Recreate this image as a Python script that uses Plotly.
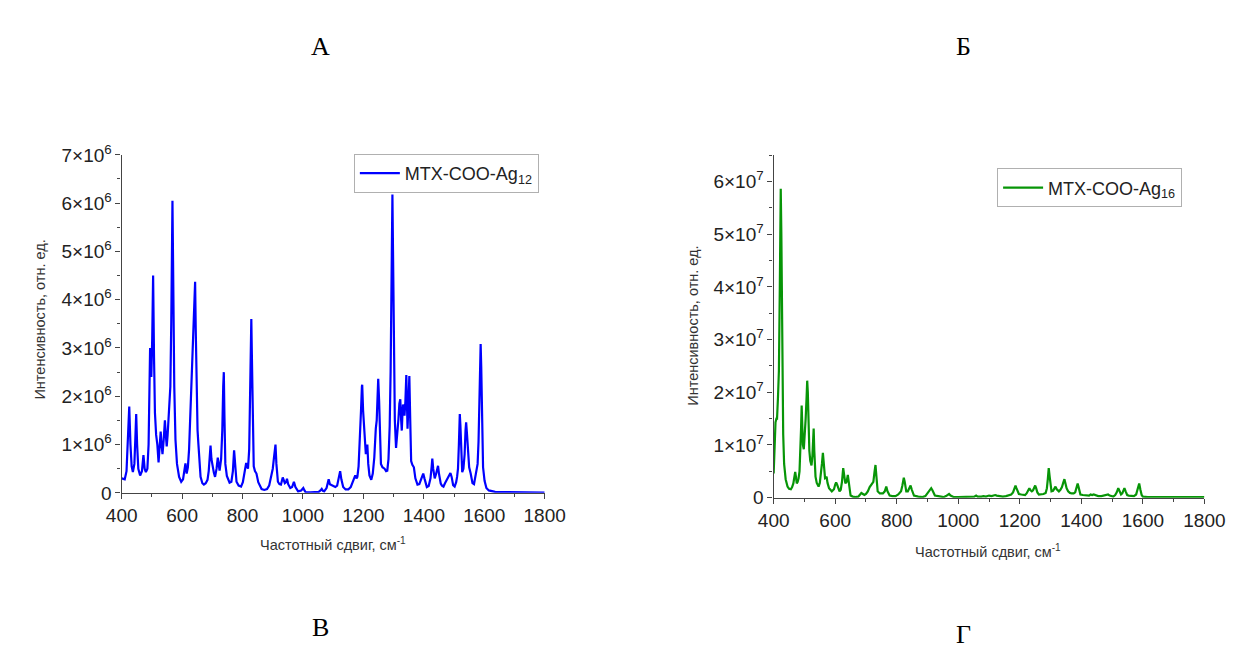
import plotly.graph_objects as go

# ---------------- data ----------------
# MTX-COO-Ag12: Raman shift (cm-1) and intensity (x 1e6)
ag12_shift = [400, 410, 416, 421, 425, 429, 433, 437, 442, 445, 448, 451, 455, 461, 467, 472, 476, 480, 485, 489,
              492, 494, 496, 498, 501, 504, 507, 510, 514, 518, 522, 526, 529, 532, 535, 539, 543, 546, 549, 552,
              554, 558, 561, 564, 566, 568, 570, 572, 574, 578, 583, 590, 597, 603, 607, 611, 615, 619, 623, 627,
              631, 634, 638, 641, 643, 645, 648, 651, 654, 657, 661, 667, 672, 678, 684, 688, 691, 694, 697, 701,
              705, 709, 714, 718, 721, 724, 729, 733, 736, 738, 740, 743, 748, 757, 763, 768, 772, 776, 780, 787,
              795, 801, 806, 809, 812, 815, 818, 822, 825, 827, 829, 831, 834, 837, 841, 846, 852, 858, 863, 872,
              881, 888, 895, 900, 904, 907, 909, 912, 917, 922, 927, 933, 937, 940, 944, 947, 951, 958, 964, 970,
              975, 984, 994, 1001, 1005, 1009, 1025, 1041, 1052, 1058, 1062, 1066, 1070, 1078, 1082, 1085, 1089, 1093, 1100, 1107,
              1113, 1118, 1123, 1127, 1133, 1141, 1150, 1158, 1165, 1170, 1173, 1177, 1180, 1184, 1188, 1192, 1195, 1196, 1199, 1202,
              1204, 1206, 1208, 1211, 1213, 1216, 1220, 1226, 1231, 1236, 1239, 1241, 1244, 1247, 1249, 1252, 1255, 1258, 1263, 1270,
              1275, 1279, 1283, 1287, 1290, 1293, 1296, 1298, 1301, 1304, 1308, 1312, 1316, 1319, 1322, 1325, 1327, 1329, 1331, 1334,
              1336, 1339, 1342, 1344, 1346, 1349, 1352, 1355, 1358, 1362, 1367, 1372, 1379, 1385, 1391, 1395, 1398, 1402, 1406, 1410,
              1416, 1422, 1426, 1428, 1431, 1434, 1436, 1440, 1444, 1447, 1450, 1453, 1456, 1460, 1465, 1470, 1476, 1482, 1488, 1492,
              1497, 1502, 1507, 1510, 1513, 1516, 1519, 1521, 1524, 1527, 1531, 1535, 1538, 1540, 1543, 1546, 1550, 1555, 1561, 1566,
              1573, 1578, 1581, 1584, 1586, 1588, 1590, 1592, 1596, 1601, 1607, 1615, 1625, 1636, 1660, 1700, 1750, 1800]
ag12_int_e6 = [0.30, 0.28, 0.45, 1.2, 1.79, 1.0, 0.55, 0.43, 0.6, 1.1, 1.63, 1.0, 0.5, 0.36, 0.45, 0.78, 0.5, 0.43, 0.5, 1.0,
               2.6, 3.0, 2.8, 2.4, 3.2, 4.5, 2.8, 1.66, 1.2, 1.0, 0.63, 0.9, 1.27, 1.0, 0.8, 1.1, 1.5, 1.2, 0.96, 1.2,
               1.4, 1.7, 2.2, 3.5, 5.0, 6.05, 4.8, 3.3, 2.2, 1.1, 0.6, 0.33, 0.23, 0.28, 0.45, 0.61, 0.4, 0.53, 0.9, 1.66,
               2.3, 3.12, 3.6, 4.2, 4.37, 3.4, 1.72, 1.3, 1.0, 0.6, 0.33, 0.2, 0.17, 0.2, 0.27, 0.45, 0.75, 0.98, 0.7, 0.5,
               0.42, 0.33, 0.5, 0.73, 0.55, 0.46, 0.7, 1.3, 2.2, 2.5, 1.6, 0.6, 0.35, 0.21, 0.23, 0.45, 0.88, 0.45, 0.23, 0.15,
               0.13, 0.22, 0.4, 0.55, 0.62, 0.55, 0.5, 0.9, 2.0, 3.2, 3.6, 2.8, 1.3, 0.55, 0.45, 0.4, 0.22, 0.12, 0.08, 0.06,
               0.08, 0.15, 0.33, 0.5, 0.73, 0.95, 1.0, 0.6, 0.23, 0.18, 0.17, 0.32, 0.22, 0.2, 0.22, 0.29, 0.18, 0.10, 0.12, 0.23,
               0.12, 0.03, 0.05, 0.10, 0.05, 0.01, 0.01, 0.01, 0.02, 0.05, 0.08, 0.04, 0.03, 0.1, 0.2, 0.28, 0.18, 0.17, 0.14, 0.12,
               0.15, 0.3, 0.45, 0.28, 0.12, 0.07, 0.07, 0.12, 0.23, 0.35, 0.36, 0.3, 0.33, 0.55, 1.0, 1.7, 2.2, 2.24, 1.7, 1.4,
               1.26, 1.0, 0.8, 0.95, 1.0, 0.6, 0.36, 0.27, 0.4, 0.73, 1.2, 1.33, 1.5, 2.2, 2.36, 1.9, 1.0, 0.6, 0.53, 0.5,
               0.45, 0.46, 0.7, 1.39, 2.5, 4.6, 6.18, 5.0, 2.72, 1.5, 0.93, 1.2, 1.53, 1.85, 1.94, 1.5, 1.29, 1.6, 1.83, 1.7,
               1.6, 1.9, 2.44, 1.9, 1.33, 1.8, 2.42, 1.5, 0.66, 0.58, 0.53, 0.3, 0.17, 0.18, 0.3, 0.38, 0.4, 0.3, 0.18, 0.12,
               0.14, 0.3, 0.55, 0.71, 0.5, 0.33, 0.3, 0.38, 0.5, 0.56, 0.4, 0.25, 0.19, 0.15, 0.13, 0.2, 0.27, 0.35, 0.41, 0.33,
               0.16, 0.13, 0.22, 0.33, 0.5, 1.0, 1.63, 1.4, 0.9, 0.43, 0.5, 0.8, 1.3, 1.46, 1.2, 0.8, 0.53, 0.4, 0.2, 0.18,
               0.4, 0.6, 1.06, 1.9, 2.7, 3.08, 2.6, 1.7, 0.53, 0.25, 0.1, 0.05, 0.03, 0.02, 0.015, 0.01, 0.01, 0.005]

# MTX-COO-Ag16: Raman shift (cm-1) and intensity (x 1e7)
ag16_shift = [400, 403, 406, 409, 411, 414, 417, 420, 423, 425, 428, 431, 434, 439, 445, 450, 456, 460, 464, 467,
              470, 473, 475, 478, 481, 484, 487, 489, 491, 493, 495, 498, 501, 504, 507, 509, 511, 513, 516, 519,
              523, 526, 528, 530, 532, 534, 536, 540, 546, 550, 553, 557, 560, 563, 567, 570, 572, 575, 580, 589,
              596, 600, 603, 606, 610, 614, 618, 622, 626, 629, 633, 637, 641, 644, 647, 650, 657, 665, 675, 680,
              685, 690, 695, 700, 706, 712, 718, 722, 724, 728, 731, 734, 738, 745, 755, 761, 766, 770, 777, 786,
              796, 805, 811, 814, 818, 823, 826, 829, 831, 836, 840, 845, 849, 856, 870, 884, 893, 901, 907, 912,
              916, 920, 924, 935, 945, 952, 960, 965, 970, 975, 986, 1000, 1015, 1030, 1045, 1052, 1058, 1063, 1075, 1082,
              1090, 1100, 1108, 1115, 1120, 1125, 1135, 1145, 1155, 1165, 1172, 1178, 1182, 1186, 1189, 1193, 1197, 1205, 1212, 1217,
              1222, 1227, 1231, 1235, 1239, 1243, 1247, 1250, 1253, 1257, 1262, 1270, 1277, 1284, 1288, 1291, 1294, 1297, 1300, 1303,
              1308, 1312, 1316, 1320, 1324, 1327, 1332, 1337, 1341, 1345, 1348, 1352, 1357, 1363, 1369, 1375, 1380, 1384, 1388, 1391,
              1394, 1397, 1405, 1415, 1425, 1430, 1435, 1440, 1445, 1455, 1465, 1475, 1482, 1487, 1492, 1500, 1504, 1510, 1515, 1520,
              1524, 1529, 1533, 1537, 1540, 1544, 1549, 1554, 1562, 1571, 1578, 1583, 1588, 1592, 1596, 1600, 1616, 1650, 1800]
ag16_int_e7 = [0.46, 0.9, 1.43, 1.5, 1.5, 1.9, 2.4, 4.0, 5.86, 5.0, 2.4, 1.2, 0.64, 0.35, 0.21, 0.17, 0.16, 0.2, 0.27, 0.4,
               0.49, 0.37, 0.27, 0.3, 0.37, 0.5, 0.89, 1.3, 1.75, 1.4, 1.0, 0.92, 1.15, 1.5, 1.9, 2.22, 2.0, 1.4, 0.89, 0.7,
               0.61, 0.8, 1.1, 1.31, 0.9, 0.6, 0.4, 0.28, 0.21, 0.28, 0.4, 0.65, 0.85, 0.6, 0.37, 0.38, 0.4, 0.28, 0.18, 0.12,
               0.16, 0.25, 0.29, 0.25, 0.17, 0.12, 0.15, 0.3, 0.56, 0.45, 0.27, 0.3, 0.43, 0.3, 0.12, 0.04, 0.02, 0.01, 0.02, 0.05,
               0.09, 0.07, 0.05, 0.07, 0.12, 0.2, 0.24, 0.27, 0.3, 0.5, 0.62, 0.4, 0.12, 0.08, 0.08, 0.12, 0.21, 0.12, 0.04, 0.03,
               0.03, 0.06, 0.09, 0.12, 0.22, 0.38, 0.3, 0.15, 0.12, 0.12, 0.17, 0.23, 0.15, 0.04, 0.02, 0.01, 0.03, 0.09, 0.13, 0.18,
               0.14, 0.07, 0.04, 0.03, 0.02, 0.01, 0.03, 0.05, 0.07, 0.04, 0.01, 0.01, 0.01, 0.01, 0.02, 0.02, 0.04, 0.02, 0.02, 0.03,
               0.02, 0.04, 0.03, 0.04, 0.05, 0.04, 0.03, 0.02, 0.03, 0.04, 0.06, 0.1, 0.17, 0.23, 0.18, 0.1, 0.07, 0.06, 0.05, 0.05,
               0.08, 0.13, 0.18, 0.14, 0.12, 0.14, 0.19, 0.23, 0.18, 0.1, 0.06, 0.06, 0.07, 0.09, 0.18, 0.35, 0.56, 0.4, 0.18, 0.12,
               0.13, 0.17, 0.21, 0.16, 0.13, 0.12, 0.15, 0.2, 0.28, 0.35, 0.28, 0.18, 0.12, 0.09, 0.08, 0.08, 0.1, 0.17, 0.27, 0.2,
               0.1, 0.06, 0.05, 0.04, 0.04, 0.06, 0.05, 0.06, 0.05, 0.03, 0.03, 0.04, 0.05, 0.06, 0.04, 0.02, 0.02, 0.05, 0.1, 0.18,
               0.12, 0.06, 0.08, 0.14, 0.18, 0.12, 0.05, 0.04, 0.03, 0.03, 0.06, 0.15, 0.27, 0.15, 0.05, 0.02, 0.01, 0.01, 0.01]

x_ticks = [400, 600, 800, 1000, 1200, 1400, 1600, 1800]
ag12_yticks = [0, 1e6, 2e6, 3e6, 4e6, 5e6, 6e6, 7e6]
ag12_yticktext = ["0"] + [f"{k}×10<sup>6</sup>" for k in range(1, 8)]
ag16_yticks = [0, 1e7, 2e7, 3e7, 4e7, 5e7, 6e7]
ag16_yticktext = ["0"] + [f"{k}×10<sup>7</sup>" for k in range(1, 7)]

panel_letters = ["А", "Б", "В", "Г"]
x_title = "Частотный сдвиг, см<sup>-1</sup>"
y_title = "Интенсивность, отн. ед."
name12 = "MTX-COO-Ag<sub>12</sub>"
name16 = "MTX-COO-Ag<sub>16</sub>"

# ---------------- figure ----------------
W, H = 1241, 648
FONT = "Liberation Sans, Arial, sans-serif"
AX = "#444444"

fig = go.Figure()
fig.add_trace(go.Scatter(x=ag12_shift, y=[v * 1e6 for v in ag12_int_e6], mode="lines", name=name12,
                         line=dict(color="#0000ff", width=2.2), xaxis="x", yaxis="y", legend="legend"))
fig.add_trace(go.Scatter(x=ag16_shift, y=[v * 1e7 for v in ag16_int_e7], mode="lines", name=name16,
                         line=dict(color="#079507", width=2.2), xaxis="x2", yaxis="y2", legend="legend2"))


def px_x(p):
    return p / W


def px_y(p):
    return 1 - p / H


common_axis = dict(showgrid=False, zeroline=False, showline=True, linecolor=AX, linewidth=1.4,
                   ticks="outside", ticklen=5, tickwidth=1, tickcolor=AX,
                   tickfont=dict(family=FONT, size=19, color="#222222"))

fig.update_layout(
    width=W, height=H, margin=dict(l=0, r=0, t=0, b=0),
    paper_bgcolor="white", plot_bgcolor="white",
    xaxis=dict(domain=[px_x(100.7), px_x(536.7)], range=[400, 1800], anchor="y",
               tickvals=x_ticks, minor=dict(dtick=100, ticks="outside", ticklen=3, tickcolor=AX),
               **common_axis),
    yaxis=dict(domain=[px_y(490), px_y(139)], range=[0, 7e6], anchor="x",
               tickvals=ag12_yticks, ticktext=ag12_yticktext,
               minor=dict(dtick=5e5, tick0=0, ticks="outside", ticklen=3, tickcolor=AX),
               **common_axis),
    xaxis2=dict(domain=[px_x(772.7), px_x(1216.7)], range=[400, 1800], anchor="y2",
                tickvals=x_ticks, minor=dict(dtick=100, ticks="outside", ticklen=3, tickcolor=AX),
                **common_axis),
    yaxis2=dict(domain=[px_y(495), px_y(139.3)], range=[0, 6.5e7], anchor="x2",
                tickvals=ag16_yticks, ticktext=ag16_yticktext,
                minor=dict(dtick=5e6, tick0=0, ticks="outside", ticklen=3, tickcolor=AX),
                **common_axis),
    legend=dict(x=px_x(340), y=px_y(138), xanchor="left", yanchor="top",
                bgcolor="white", bordercolor="#b0b0b0", borderwidth=1, itemwidth=40,
                font=dict(family=FONT, size=18, color="#222222")),
    legend2=dict(x=px_x(1003), y=px_y(153), xanchor="left", yanchor="top",
                 bgcolor="white", bordercolor="#b0b0b0", borderwidth=1, itemwidth=40,
                 font=dict(family=FONT, size=18, color="#222222")),
    showlegend=True,
)

title_font = dict(family=FONT, size=14.5, color="#333333")
annotations = [
    dict(text=x_title, x=px_x(318), y=px_y(543), showarrow=False, font=title_font, xanchor="center", yanchor="middle"),
    dict(text=y_title, x=px_x(15.5), y=px_y(310), showarrow=False, font=title_font, textangle=-90,
         xanchor="center", yanchor="middle"),
    dict(text=x_title, x=px_x(994), y=px_y(550), showarrow=False, font=title_font, xanchor="center", yanchor="middle"),
    dict(text=y_title, x=px_x(690), y=px_y(316), showarrow=False, font=title_font, textangle=-90,
         xanchor="center", yanchor="middle"),
]
letter_font = dict(family="Liberation Serif, Times New Roman, serif", size=26, color="black")
for letter, (lx, ly) in zip(panel_letters, [(306, 26), (968, 26), (306, 630), (968, 637)]):
    annotations.append(dict(text=letter, x=px_x(lx), y=px_y(ly), showarrow=False, font=letter_font,
                            xanchor="center", yanchor="middle"))
for a in annotations:
    a.update(xref="paper", yref="paper")
fig.update_layout(annotations=annotations)

fig.write_html("out.html")
